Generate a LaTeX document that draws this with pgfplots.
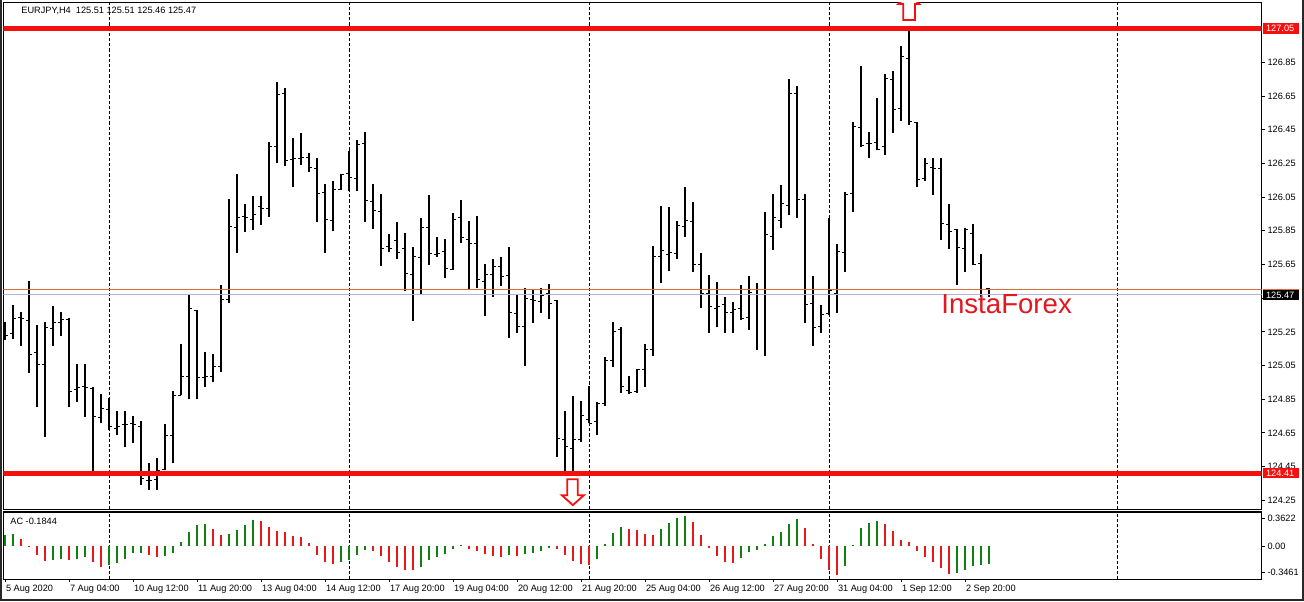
\documentclass[border=0pt]{standalone}
\usepackage{pgfplots}
\pgfplotsset{compat=1.18}
\usepackage{pgfplotstable}
\usepackage{fontspec}
\setmainfont{Liberation Sans}
\definecolor{mtred}{RGB}{245,16,16}
\definecolor{acgreen}{RGB}{16,128,16}
\definecolor{acred}{RGB}{232,24,24}
\definecolor{askorange}{RGB}{226,104,52}
\definecolor{bidblue}{RGB}{178,178,224}
\definecolor{ifred}{RGB}{228,22,32}
\definecolor{frame}{RGB}{40,40,40}

% OHLC of EURJPY H4 bars (k = bar index)
\pgfplotstableread{
k O H L C
0 125.28 125.31 125.20 125.23
1 125.24 125.41 125.206 125.331
2 125.335 125.37 125.167 125.33
3 125.32 125.553 125.008 125.117
4 125.127 125.291 124.806 125.058
5 125.054 125.311 124.628 125.277
6 125.272 125.404 125.167 125.305
7 125.305 125.37 125.226 125.321
8 125.325 125.331 124.806 124.895
9 124.909 125.058 124.836 124.921
10 124.925 125.058 124.747 124.919
11 124.915 124.925 124.424 124.75
12 124.741 124.879 124.711 124.796
13 124.79 124.856 124.667 124.69
14 124.677 124.78 124.638 124.691
15 124.701 124.78 124.568 124.703
16 124.707 124.753 124.588 124.703
17 124.691 124.721 124.341 124.38
18 124.37 124.47 124.311 124.37
19 124.374 124.5 124.311 124.43
20 124.434 124.701 124.43 124.634
21 124.634 124.899 124.47 124.871
22 124.875 125.177 124.875 124.984
23 124.984 125.47 124.85 125.39
24 125.377 125.38 124.85 124.98
25 124.98 125.129 124.921 124.984
26 124.984 125.117 124.951 125.044
27 125.044 125.529 125.01 125.44
28 125.44 126.04 125.424 125.875
29 125.87 126.188 125.72 125.93
30 125.935 126.01 125.845 125.93
31 125.919 126.054 125.855 125.944
32 125.994 126.054 125.885 125.98
33 125.98 126.38 125.93 126.35
34 126.35 126.731 126.252 126.66
35 126.665 126.697 126.232 126.267
36 126.275 126.4 126.109 126.28
37 126.28 126.43 126.238 126.283
38 126.287 126.31 126.198 126.226
39 126.222 126.281 125.901 126.073
40 126.077 126.129 125.72 125.92
41 125.909 126.143 125.846 126.093
42 126.097 126.188 126.093 126.184
43 126.188 126.321 126.089 126.168
44 126.158 126.39 126.089 126.36
45 126.37 126.434 125.905 126.03
46 126.024 126.129 125.86 125.968
47 125.964 126.069 125.642 125.746
48 125.757 125.832 125.727 125.745
49 125.792 125.905 125.68 125.72
50 125.747 125.836 125.49 125.598
51 125.588 125.752 125.315 125.697
52 125.693 125.925 125.47 125.871
53 125.87 126.063 125.648 125.713
54 125.707 125.812 125.697 125.713
55 125.727 125.8 125.569 125.628
56 125.622 125.954 125.62 125.919
57 125.931 126.034 125.776 125.812
58 125.8 125.909 125.5 125.776
59 125.776 125.939 125.509 125.559
60 125.55 125.654 125.347 125.59
61 125.59 125.68 125.46 125.64
62 125.64 125.693 125.523 125.58
63 125.583 125.752 125.216 125.367
64 125.361 125.47 125.242 125.285
65 125.281 125.509 125.05 125.45
66 125.44 125.503 125.305 125.434
67 125.43 125.509 125.361 125.466
68 125.48 125.533 125.327 125.42
69 125.436 125.44 124.509 124.618
70 124.612 124.78 124.42 124.568
71 124.559 124.87 124.42 124.614
72 124.614 124.84 124.598 124.751
73 124.731 124.929 124.707 124.707
74 124.717 124.836 124.638 124.826
75 124.826 125.099 124.81 125.083
76 125.083 125.311 125.04 125.252
77 125.262 125.278 124.89 124.925
78 124.905 124.988 124.88 124.89
79 124.895 125.028 124.89 125.024
80 125.028 125.177 124.925 125.147
81 125.143 125.76 125.107 125.70
82 125.70 126.0 125.539 125.735
83 125.71 125.99 125.61 125.72
84 125.713 125.911 125.68 125.879
85 125.875 126.113 125.816 125.909
86 125.905 126.024 125.608 125.648
87 125.648 125.717 125.39 125.48
88 125.48 125.588 125.242 125.4
89 125.39 125.549 125.277 125.4
90 125.41 125.46 125.242 125.365
91 125.365 125.43 125.242 125.384
92 125.39 125.529 125.321 125.331
93 125.337 125.583 125.262 125.483
94 125.47 125.54 125.143 125.5
95 125.5 125.964 125.107 125.826
96 125.816 126.069 125.737 125.93
97 125.911 126.123 125.865 126.01
98 126.0 126.753 125.944 126.664
99 126.667 126.711 125.925 126.038
100 126.038 126.069 125.301 125.41
101 125.42 125.583 125.168 125.277
102 125.285 125.41 125.246 125.351
103 125.361 125.925 125.35 125.495
104 125.48 125.77 125.365 125.727
105 125.72 126.083 125.608 126.067
106 126.07 126.493 125.964 126.469
107 126.464 126.826 126.35 126.357
108 126.37 126.434 126.281 126.37
109 126.374 126.638 126.327 126.335
110 126.35 126.782 126.301 126.757
111 126.751 126.8 126.43 126.568
112 126.578 126.949 126.499 126.882
113 126.875 127.044 126.479 126.499
114 126.493 126.493 126.109 126.156
115 126.163 126.281 126.143 126.252
116 126.228 126.281 126.063 126.222
117 126.222 126.281 125.796 125.891
118 125.885 126.01 125.74 125.845
119 125.856 125.86 125.53 125.75
120 125.746 125.865 125.608 125.855
121 125.836 125.891 125.648 125.653
122 125.657 125.713 125.46 125.5
123 125.51 125.51 125.46 125.47
}\ohlc

% Accelerator Oscillator, rising bars (green)
\pgfplotstableread{
k v
0 0.132
1 0.14
6 -0.176
7 -0.16
9 -0.16
10 -0.132
13 -0.236
14 -0.212
15 -0.156
16 -0.084
17 -0.082
20 -0.12
21 -0.084
22 0.044
23 0.164
24 0.252
25 0.256
28 0.136
29 0.188
30 0.252
31 0.308
42 -0.2
43 -0.172
44 -0.108
45 -0.048
52 -0.252
53 -0.172
54 -0.132
55 -0.096
56 -0.036
57 0.004
63 -0.108
65 -0.096
66 -0.084
67 -0.06
68 -0.024
74 -0.156
75 0.024
76 0.152
77 0.224
82 0.2
83 0.272
84 0.332
85 0.356
92 -0.144
93 -0.072
94 -0.048
95 0.024
96 0.116
97 0.164
98 0.26
99 0.32
105 -0.24
106 0.012
107 0.212
108 0.272
109 0.296
119 -0.324
120 -0.288
121 -0.24
122 -0.236
123 -0.216
}\acG

% Accelerator Oscillator, falling bars (red)
\pgfplotstableread{
k v
2 0.084
3 -0.008
4 -0.108
5 -0.18
8 -0.172
11 -0.2
12 -0.252
18 -0.108
19 -0.132
26 0.2
27 0.132
32 0.296
33 0.224
34 0.18
35 0.164
36 0.112
37 0.108
38 0.036
39 -0.108
40 -0.2
41 -0.22
46 -0.06
47 -0.12
48 -0.196
49 -0.252
50 -0.288
51 -0.29
58 -0.036
59 -0.06
60 -0.096
61 -0.12
62 -0.132
64 -0.12
69 -0.036
70 -0.108
71 -0.18
72 -0.216
73 -0.232
78 0.2
79 0.188
80 0.14
81 0.128
86 0.284
87 0.128
88 -0.024
89 -0.12
90 -0.192
91 -0.204
100 0.212
101 0.024
102 -0.156
103 -0.288
104 -0.346
110 0.26
111 0.176
112 0.068
113 0.044
114 -0.06
115 -0.132
116 -0.192
117 -0.268
118 -0.336
}\acR

\begin{document}
\begin{tikzpicture}[x=1pt,y=1pt]
\def\lab{\fontsize{4.6pt}{5pt}\selectfont}
\pgfplotsset{nomark/.style={only marks, mark=*, mark size=0pt, mark options={draw=none, fill=none}}}
% ---------------- price panel ----------------
\begin{axis}[
  at={(1.65pt,45.85pt)}, anchor=south west, scale only axis,
  width=629.2pt, height=253.3pt,
  xmin=-0.2125, xmax=157.0875, ymin=124.197, ymax=127.204,
  axis line style={black, line width=0.6pt},
  xtick=\empty,
  extra x ticks={13,43,73,103,139}, extra x tick labels={},
  extra x tick style={grid=major, major tick length=0pt,
     major grid style={black, line width=0.5pt, dash pattern=on 1.6pt off 1pt}},
  ytick={124.25,124.45,124.65,124.85,125.05,125.25,125.45,125.65,125.85,126.05,126.25,126.45,126.65,126.85},
  yticklabels={124.25,124.45,124.65,124.85,125.05,125.25,{},125.65,125.85,126.05,126.25,126.45,126.65,126.85},
  ytick pos=right, yticklabel pos=right, tick align=outside, major tick length=1.5pt,
  tick style={black, line width=0.5pt},
  yticklabel style={font=\lab, anchor=west, inner sep=0pt, xshift=1.2pt},
  clip mode=individual,
]
% high-low lines
\addplot[nomark, error bars/.cd, y dir=plus, y explicit, error mark=none,
   error bar style={black, line width=0.55pt}]
   table[x=k, y=L, y error expr=\thisrow{H}-\thisrow{L}] {\ohlc};
% open ticks
\addplot[nomark, error bars/.cd, x dir=minus, x fixed=0.38, error mark=none,
   error bar style={black, line width=0.5pt}]
   table[x=k, y=O] {\ohlc};
% close ticks
\addplot[nomark, error bars/.cd, x dir=plus, x fixed=0.38, error mark=none,
   error bar style={black, line width=0.5pt}]
   table[x=k, y=C] {\ohlc};
% bid / ask lines
\addplot[bidblue, line width=0.5pt] coordinates {(-1,125.47) (158,125.47)};
\addplot[askorange, line width=0.5pt] coordinates {(-1,125.50) (158,125.50)};
% support / resistance
\addplot[mtred, line width=2.35pt] coordinates {(-1,127.05) (158,127.05)};
\addplot[mtred, line width=2.35pt] coordinates {(-1,124.41) (158,124.41)};
% arrows
\draw[mtred, line width=0.9pt, fill=white]
  (axis cs:70.29,124.375) -- (axis cs:71.59,124.375) -- (axis cs:71.59,124.281) --
  (axis cs:72.375,124.281) -- (axis cs:70.98,124.222) -- (axis cs:69.59,124.281) --
  (axis cs:70.29,124.281) -- cycle;
\begin{scope}
\clip (rel axis cs:0,0) rectangle (rel axis cs:1,1);
\draw[mtred, line width=0.9pt, fill=white]
  (axis cs:112.29,127.101) -- (axis cs:113.75,127.101) -- (axis cs:113.75,127.196) --
  (axis cs:114.29,127.196) -- (axis cs:112.98,127.255) -- (axis cs:111.66,127.196) --
  (axis cs:112.29,127.196) -- cycle;
\end{scope}
\node[anchor=base west, inner sep=0pt, text=ifred, font=\fontsize{13.8pt}{14pt}\selectfont]
  at (axis cs:117,125.362) {InstaForex};
\node[anchor=west, inner sep=0pt, font=\lab] at (axis cs:2,127.154)
  {EURJPY,H4\ \ 125.51 125.51 125.46 125.47};
\coordinate (pA) at (axis cs:157.0875,127.05);
\coordinate (pB) at (axis cs:157.0875,124.41);
\coordinate (pD) at (axis cs:157.0875,125.47);
\end{axis}
% price boxes on the scale
\node[anchor=west, fill=mtred, text=white, inner sep=0pt, minimum width=17.8pt, minimum height=5.2pt,
  font=\lab, xshift=0.5pt, text width=16.8pt, align=left] at (pA) {\hspace*{1pt}127.05};
\node[anchor=west, fill=mtred, text=white, inner sep=0pt, minimum width=17.8pt, minimum height=5.0pt,
  font=\lab, xshift=0.5pt, text width=16.8pt, align=left] at (pB) {\hspace*{1pt}124.41};
\node[anchor=south west, fill=askorange, inner sep=0pt, minimum width=17.8pt, minimum height=2.6pt,
  xshift=0.5pt] at (pD) {};
\node[anchor=west, fill=black, text=white, inner sep=0pt, minimum width=17.8pt, minimum height=5.0pt,
  font=\lab, xshift=0.5pt, text width=16.8pt, align=left] at (pD) {\hspace*{1pt}125.47};
% ---------------- AC panel ----------------
\begin{axis}[
  at={(1.65pt,10.85pt)}, anchor=south west, scale only axis,
  width=629.2pt, height=33.65pt,
  xmin=-0.2125, xmax=157.0875, ymin=-0.4036, ymax=0.404,
  axis line style={black, line width=0.6pt},
  xtick={0,8,...,120},
  xticklabels={5 Aug 2020,7 Aug 04:00,10 Aug 12:00,11 Aug 20:00,13 Aug 04:00,14 Aug 12:00,17 Aug 20:00,19 Aug 04:00,20 Aug 12:00,21 Aug 20:00,25 Aug 04:00,26 Aug 12:00,27 Aug 20:00,31 Aug 04:00,1 Sep 12:00,2 Sep 20:00},
  xtick pos=bottom, tick align=outside, major tick length=1.5pt,
  tick style={black, line width=0.5pt},
  xticklabel style={font=\lab, anchor=north west, inner sep=0pt, xshift=0.3pt, yshift=-1.2pt},
  extra x ticks={13,43,73,103,139}, extra x tick labels={},
  extra x tick style={grid=major, major tick length=0pt,
     major grid style={black, line width=0.5pt, dash pattern=on 1.6pt off 1pt}},
  ytick={0.328,-0.012,-0.324}, yticklabels={0.3622,0.00,-0.3461},
  ytick pos=right, yticklabel pos=right,
  yticklabel style={font=\lab, anchor=west, inner sep=0pt, xshift=1.2pt},
]
\addplot[ycomb, acgreen, line width=1.35pt, mark=none] table[x=k, y=v] {\acG};
\addplot[ycomb, acred, line width=1.35pt, mark=none] table[x=k, y=v] {\acR};
\node[anchor=west, inner sep=0pt, font=\lab] at (axis cs:0.625,0.296) {AC -0.1844};
\end{axis}
% outer frame
\draw[frame, line width=0.8pt] (0.4pt,300.5pt) -- (0.4pt,0.6pt) -- (651.4pt,0.6pt) -- (651.4pt,300.5pt);
\pgfresetboundingbox
\useasboundingbox (0,0) rectangle (652pt,300.5pt);
\end{tikzpicture}
\end{document}
